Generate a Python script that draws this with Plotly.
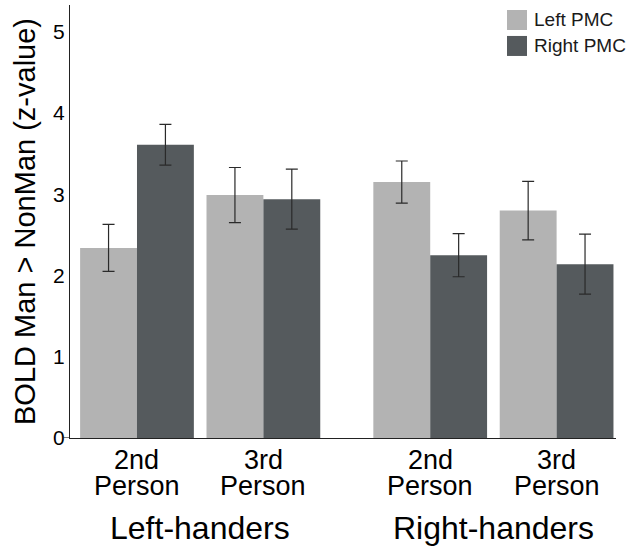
import plotly.graph_objects as go

# Mean BOLD contrast (z-values) and error bar half-widths per hemisphere
groups = ["Left-handers", "Right-handers"]
condition_top = ["2nd", "3rd"]
condition_bottom = ["Person", "Person"]
series_names = ["Left PMC", "Right PMC"]
left_pmc = [2.34, 2.99, 3.15, 2.80]
left_pmc_err = [0.29, 0.34, 0.26, 0.36]
right_pmc = [3.61, 2.94, 2.25, 2.14]
right_pmc_err = [0.25, 0.37, 0.265, 0.37]
y_ticks = [0, 1, 2, 3, 4, 5]

# x layout: conditions 1 unit apart, extra space between handedness groups
GROUP_STRIDE = 2.32
n_cond = len(condition_top)
x_pos = [g * GROUP_STRIDE + c for g in range(len(groups)) for c in range(n_cond)]

LIGHT = "#b3b3b3"
DARK = "#555a5d"
FONT = "Liberation Sans, Arial, Helvetica, sans-serif"

fig = go.Figure()
colors = [LIGHT, DARK]
for name, vals, errs, color in [
    (series_names[0], left_pmc, left_pmc_err, LIGHT),
    (series_names[1], right_pmc, right_pmc_err, DARK),
]:
    fig.add_trace(go.Bar(
        x=x_pos, y=vals, name=name, showlegend=False,
        marker=dict(color=color, line=dict(width=0)),
        error_y=dict(type="data", array=errs, visible=True,
                     color="#2a2a2a", thickness=1.2, width=6),
    ))

# Two-line condition labels under each bar pair (tight line spacing)
for i, x in enumerate(x_pos):
    c = i % n_cond
    fig.add_annotation(x=x, xref="x", y=-0.050, yref="paper", yanchor="middle",
                       text=condition_top[c], showarrow=False,
                       font=dict(family=FONT, size=27, color="black"))
    fig.add_annotation(x=x, xref="x", y=-0.112, yref="paper", yanchor="middle",
                       text=condition_bottom[c], showarrow=False,
                       font=dict(family=FONT, size=27, color="black"))

# Group labels
for g, label in enumerate(groups):
    fig.add_annotation(
        x=g * GROUP_STRIDE + (n_cond - 1) / 2, xref="x",
        y=-0.208, yref="paper", yanchor="middle",
        text=label, showarrow=False,
        font=dict(family=FONT, size=32, color="black"),
    )

# Legend: square swatches with series names, top right
for k, (name, color) in enumerate(zip(series_names, colors)):
    top = 0.9885 - k * 0.0600
    bottom = top - 0.0462
    fig.add_shape(type="rect", xref="paper", yref="paper",
                  x0=0.8004, x1=0.8370, y0=bottom, y1=top,
                  fillcolor=color, line=dict(width=0))
    fig.add_annotation(x=0.846, xref="paper", y=(top + bottom) / 2, yref="paper",
                       xanchor="left", yanchor="middle", text=name, showarrow=False,
                       font=dict(family=FONT, size=19, color="#1a1a1a"))

# Short extension of the baseline to the left of the y axis
fig.add_shape(type="line", xref="paper", yref="y", x0=-0.013, x1=0, y0=0, y1=0,
              line=dict(color="#222", width=1.2))

fig.update_layout(
    width=629, height=546,
    margin=dict(l=70, r=13, t=5, b=108),
    plot_bgcolor="white", paper_bgcolor="white",
    barmode="group", bargap=0.1, bargroupgap=0,
    font=dict(family=FONT, color="black"),
    showlegend=False,
    xaxis=dict(range=[-0.53, 3.79], showticklabels=False,
               showline=True, linecolor="#222", linewidth=1.2,
               ticks="", showgrid=False, zeroline=False),
    yaxis=dict(range=[0, 5.33], tickmode="array", tickvals=y_ticks,
               showline=True, linecolor="#222", linewidth=1.2,
               ticks="", showgrid=False, zeroline=False,
               tickfont=dict(family=FONT, size=21, color="black"),
               title=dict(text="BOLD Man > NonMan (z-value)",
                          font=dict(family=FONT, size=29, color="black"),
                          standoff=8)),
)

fig.write_html("out.html")
